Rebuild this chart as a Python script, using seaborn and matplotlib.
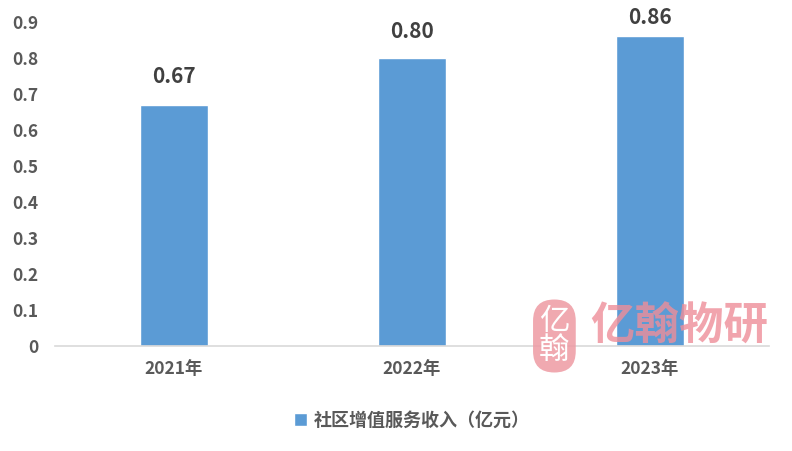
import matplotlib
matplotlib.use("Agg")
import matplotlib.pyplot as plt
import pandas as pd
import seaborn as sns

years = ["2021年", "2022年", "2023年"]
income = [0.67, 0.80, 0.86]
series_name = "社区增值服务收入（亿元）"
y_ticks = [0, 0.1, 0.2, 0.3, 0.4, 0.5, 0.6, 0.7, 0.8, 0.9]

bar_color = "#5B9BD5"
text_color = "#595959"
label_offsets = [0.08, 0.075, 0.053]

sns.set_theme(style="white")
plt.rcParams["font.family"] = ["Noto Sans CJK SC", "DejaVu Sans"]

df = pd.DataFrame({"year": years, "value": income, "series": series_name})

fig = plt.figure(figsize=(7.92, 4.51), dpi=100)
ax = fig.add_axes([0.0694, 0.2328, 0.9016, 0.7184])

sns.barplot(data=df, x="year", y="value", hue="series", palette=[bar_color],
            width=0.286, ax=ax, saturation=1)

ax.set_ylim(0, 0.9)
ax.set_yticks(y_ticks)
ax.set_yticklabels(["0"] + [f"{t:.1f}" for t in y_ticks[1:]])
ax.set_xlim(-0.5, 2.5)
ax.set_xlabel("")
ax.set_ylabel("")
ax.tick_params(axis="both", length=0, colors=text_color, labelsize=12.5)
ax.tick_params(axis="y", pad=12)
ax.tick_params(axis="x", pad=10)
for lbl in ax.get_xticklabels() + ax.get_yticklabels():
    lbl.set_fontweight("bold")

for s in ["top", "right", "left"]:
    ax.spines[s].set_visible(False)
ax.spines["bottom"].set_color("#D9D9D9")
ax.spines["bottom"].set_linewidth(1.2)

for i, v in enumerate(income):
    ax.text(i, v + label_offsets[i], f"{v:.2f}", ha="center", va="center",
            fontsize=15, fontweight="bold", color="#404040", clip_on=False)

leg = ax.legend(loc="upper center", bbox_to_anchor=(0.5, -0.15), frameon=False,
                handlelength=0.7, handleheight=0.7, handletextpad=0.4,
                prop={"size": 13, "weight": "bold"})
for t in leg.get_texts():
    t.set_color(text_color)

# watermark
fig.text(0.700, 0.255, "亿\n翰", ha="center", va="center", fontsize=22,
         color="white", linespacing=0.95,
         bbox=dict(boxstyle="round,pad=0.2,rounding_size=0.7", fc="#EE9AA3",
                   ec="none", alpha=0.85))
fig.text(0.745, 0.275, "亿翰物研", ha="left", va="center", fontsize=32,
         color="#EE8E99", alpha=0.8, fontweight="bold")

fig.savefig("out.png", dpi=100, facecolor="white")
